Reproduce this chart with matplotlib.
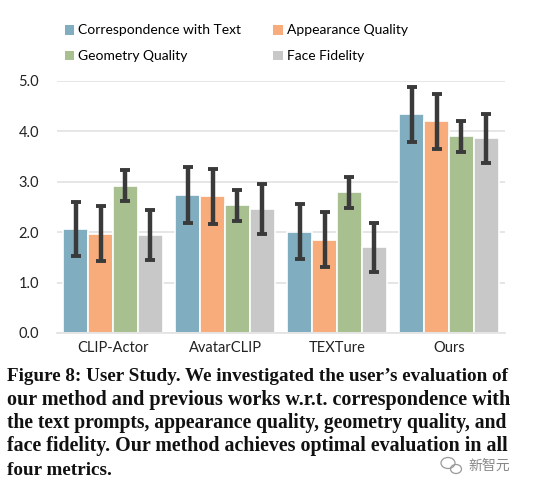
import matplotlib
matplotlib.use("Agg")
import matplotlib.pyplot as plt
from matplotlib.patches import Patch, Ellipse
import numpy as np

methods = ["CLIP-Actor", "AvatarCLIP", "TEXTure", "Ours"]
metrics = ["Correspondence with Text", "Appearance Quality", "Geometry Quality", "Face Fidelity"]
corr_text = [2.06, 2.74, 2.01, 4.34]
appearance = [1.97, 2.71, 1.85, 4.20]
geometry = [2.92, 2.53, 2.79, 3.90]
face = [1.94, 2.46, 1.70, 3.86]
corr_err = [0.54, 0.55, 0.54, 0.55]
appearance_err = [0.55, 0.55, 0.55, 0.55]
geometry_err = [0.31, 0.30, 0.30, 0.30]
face_err = [0.50, 0.49, 0.48, 0.49]
yticks = [0.0, 1.0, 2.0, 3.0, 4.0, 5.0]
caption_lines = [
    "Figure 8: User Study. We investigated the user\u2019s evaluation of",
    "our method and previous works w.r.t. correspondence with",
    "the text prompts, appearance quality, geometry quality, and",
    "face fidelity. Our method achieves optimal evaluation in all",
    "four metrics.",
]
watermark = "新智元"

colors = ["#80AEC0", "#F9AC7B", "#A8BF90", "#C8C8C8"]
series = [corr_text, appearance, geometry, face]
errs = [corr_err, appearance_err, geometry_err, face_err]

W, H = 536, 488
fig = plt.figure(figsize=(W / 100, H / 100), dpi=100)
ax = fig.add_axes([57 / W, 1 - 333 / H, 448 / W, 252 / H])

sans = ["Lato", "DejaVu Sans"]
x = np.arange(len(methods))
bw = 0.89 / 4
for i, (vals, er, c) in enumerate(zip(series, errs, colors)):
    pos = x - 0.89 / 2 + bw * (i + 0.5)
    ax.bar(pos, vals, width=bw, color=c, edgecolor="white", linewidth=1.2, zorder=2)
    ax.errorbar(pos, vals, yerr=er, fmt="none", ecolor="#3a3a3a", elinewidth=3.2,
                capsize=3.8, capthick=2.8, zorder=3, clip_on=False)

ax.set_xlim(-0.5, 3.5)
ax.set_ylim(0, 5)
ax.set_yticks(yticks)
ax.set_yticklabels([f"{v:.1f}" for v in yticks], fontfamily=sans, fontsize=10.5, color="#222222")
ax.set_xticks(x)
ax.set_xticklabels(methods, fontfamily=sans, fontsize=10.5, color="#222222")
ax.tick_params(axis="y", length=0, pad=13)
ax.tick_params(axis="x", length=0, pad=6)
ax.grid(axis="y", color="#e2e2e2", linewidth=1.2, zorder=0)
for s in ["top", "right", "left"]:
    ax.spines[s].set_visible(False)
ax.spines["bottom"].set_color("#e2e2e2")
ax.spines["bottom"].set_linewidth(1.2)
ax.set_axisbelow(True)

handles = [Patch(facecolor=c, edgecolor="none") for c in colors]
order = [0, 2, 1, 3]
leg = fig.legend([handles[i] for i in order], [metrics[i] for i in order],
                 ncol=2, loc="upper left", bbox_to_anchor=(52 / W, 1 - 12 / H),
                 frameon=False, handlelength=0.7, handleheight=0.7, handletextpad=0.3,
                 columnspacing=2.3, labelspacing=1.0,
                 prop={"family": sans, "size": 10})

# caption
serif = ["Liberation Serif", "DejaVu Serif"]
renderer = fig.canvas.get_renderer()
fs = 13
t = fig.text(7 / W, 1 - 381 / H, caption_lines[0], fontfamily=serif, fontweight="bold",
             fontsize=fs, color="#111111", va="baseline", ha="left")
bb = t.get_window_extent(renderer)
fs = fs * 501 / bb.width
t.set_fontsize(fs)
for k, line in enumerate(caption_lines[1:], start=1):
    tt = fig.text(7 / W, 1 - (381 + 23.5 * k) / H, line, fontfamily=serif, fontweight="bold",
                  fontsize=fs, color="#111111", va="baseline", ha="left")
    if k < len(caption_lines) - 1:
        b = tt.get_window_extent(renderer)
        tt.set_fontsize(fs * 501 / b.width if b.width > 0 else fs)

# watermark
fig.text(468 / W, 1 - 466 / H, watermark, fontfamily=["Noto Sans CJK SC"], fontsize=10,
         color="#888888", va="center", ha="left")
e1 = Ellipse((448 / W, 1 - 463 / H), 14 / W, 11 / H, transform=fig.transFigure,
             fill=False, edgecolor="#999999", linewidth=0.9)
e2 = Ellipse((456 / W, 1 - 469 / H), 11 / W, 9 / H, transform=fig.transFigure,
             fill=False, edgecolor="#999999", linewidth=0.9, facecolor="white")
fig.add_artist(e1)
fig.add_artist(e2)

fig.savefig("out.png", dpi=100, facecolor="white")
